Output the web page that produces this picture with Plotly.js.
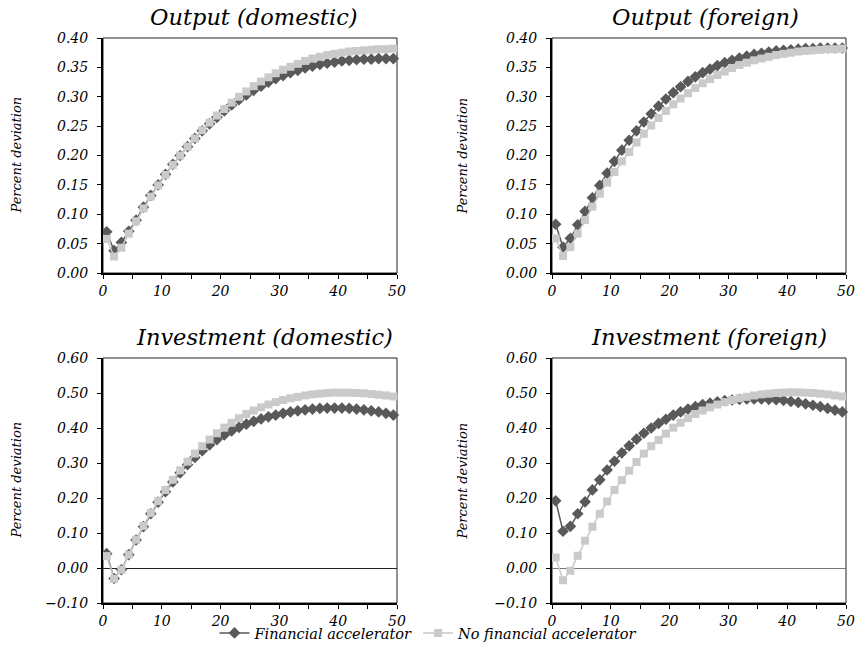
<!DOCTYPE html>
<html>
<head>
<meta charset="utf-8">
<script src="https://cdn.plot.ly/plotly-3.0.1.min.js"></script>
<style>html,body{margin:0;padding:0;background:#fff;}#chart{width:857px;height:649px;}</style>
</head>
<body>
<div id="chart"></div>
<script>
// ---- data ----
const periods = [1,2,3,4,5,6,7,8,9,10,11,12,13,14,15,16,17,18,19,20,21,22,23,24,25,26,27,28,29,30,31,32,33,34,35,36,37,38,39,40];
const xTickPos = [0.5, 8.5, 16.5, 24.5, 32.5, 40.5];
const xTickText = ['0','10','20','30','40','50'];
const seriesNames = ['Financial accelerator', 'No financial accelerator'];
const panelTitles = ['Output (domestic)', 'Output (foreign)', 'Investment (domestic)', 'Investment (foreign)'];

const outDomFA = [0.070,0.038,0.052,0.071,0.090,0.112,0.132,0.150,0.168,0.185,0.200,0.215,0.229,0.242,0.254,0.265,0.276,0.286,0.295,0.303,0.311,0.318,0.325,0.331,0.336,0.341,0.345,0.349,0.352,0.355,0.357,0.359,0.361,0.362,0.363,0.364,0.364,0.365,0.365,0.365];
const outDomNFA = [0.058,0.028,0.043,0.067,0.088,0.110,0.130,0.149,0.167,0.184,0.200,0.215,0.229,0.243,0.256,0.268,0.279,0.290,0.300,0.309,0.318,0.326,0.333,0.340,0.346,0.351,0.356,0.361,0.365,0.368,0.371,0.373,0.375,0.377,0.378,0.379,0.380,0.381,0.381,0.382];
const outForFA = [0.083,0.044,0.059,0.082,0.105,0.128,0.149,0.170,0.190,0.209,0.226,0.242,0.257,0.271,0.284,0.296,0.307,0.317,0.326,0.334,0.341,0.347,0.353,0.358,0.362,0.366,0.369,0.372,0.374,0.376,0.378,0.379,0.380,0.381,0.382,0.382,0.383,0.383,0.383,0.383];
const outForNFA = [0.059,0.029,0.044,0.067,0.090,0.113,0.135,0.154,0.172,0.190,0.206,0.222,0.237,0.251,0.264,0.276,0.287,0.297,0.306,0.315,0.323,0.330,0.337,0.343,0.349,0.354,0.358,0.362,0.365,0.368,0.371,0.373,0.375,0.377,0.378,0.379,0.380,0.381,0.381,0.382];
const invDomFA = [0.041,-0.030,-0.005,0.038,0.080,0.118,0.155,0.188,0.218,0.246,0.272,0.295,0.316,0.335,0.352,0.367,0.380,0.392,0.402,0.411,0.419,0.426,0.432,0.437,0.442,0.446,0.449,0.452,0.454,0.456,0.457,0.457,0.457,0.456,0.454,0.452,0.449,0.446,0.442,0.437];
const invDomNFA = [0.034,-0.031,-0.005,0.038,0.081,0.120,0.157,0.191,0.223,0.252,0.279,0.304,0.327,0.348,0.367,0.385,0.401,0.415,0.428,0.440,0.450,0.459,0.467,0.474,0.480,0.485,0.489,0.493,0.496,0.498,0.500,0.501,0.501,0.501,0.500,0.499,0.497,0.495,0.493,0.490];
const invForFA = [0.192,0.105,0.119,0.155,0.189,0.223,0.252,0.280,0.305,0.329,0.349,0.368,0.385,0.400,0.413,0.425,0.437,0.446,0.454,0.461,0.467,0.471,0.475,0.478,0.480,0.482,0.483,0.483,0.483,0.482,0.481,0.479,0.476,0.473,0.469,0.465,0.461,0.456,0.451,0.446];
const invForNFA = [0.030,-0.035,-0.008,0.035,0.078,0.118,0.155,0.190,0.223,0.251,0.278,0.303,0.327,0.348,0.366,0.384,0.401,0.415,0.428,0.440,0.450,0.459,0.467,0.474,0.480,0.485,0.489,0.493,0.496,0.498,0.500,0.501,0.502,0.502,0.501,0.500,0.498,0.496,0.493,0.490];

// ---- styles ----
const W = 857, H = 649;
const FONT = 'DejaVu Serif, Liberation Serif, serif';
const darkC = '#595959', lightC = '#cacaca';
const panels = [
  {fa: outDomFA, nfa: outDomNFA, xd: [103, 397], yd: [38, 273], yr: [0, 0.40], dt: 0.05, tx: 254, ty: 17},
  {fa: outForFA, nfa: outForNFA, xd: [552, 846], yd: [38, 273], yr: [0, 0.40], dt: 0.05, tx: 705, ty: 17},
  {fa: invDomFA, nfa: invDomNFA, xd: [103, 397], yd: [358, 603], yr: [-0.10, 0.60], dt: 0.10, tx: 264, ty: 337},
  {fa: invForFA, nfa: invForNFA, xd: [552, 846], yd: [358, 603], yr: [-0.10, 0.60], dt: 0.10, tx: 709, ty: 337}
];

const traces = [];
const layout = {
  width: W, height: H,
  margin: {l: 0, r: 0, t: 0, b: 0},
  paper_bgcolor: '#fff', plot_bgcolor: '#fff',
  font: {family: FONT, color: '#000', size: 14},
  showlegend: true,
  legend: {orientation: 'h', x: 0.5, xanchor: 'center', y: 0, yanchor: 'bottom',
           bgcolor: 'rgba(0,0,0,0)',
           font: {family: FONT, size: 14.5, style: 'italic'}, itemwidth: 30, tracegroupgap: 0, traceorder: 'normal'},
  annotations: [], shapes: []
};

panels.forEach((p, i) => {
  const n = i + 1;
  const xa = n === 1 ? 'x' : 'x' + n, ya = n === 1 ? 'y' : 'y' + n;
  const xk = n === 1 ? 'xaxis' : 'xaxis' + n, yk = n === 1 ? 'yaxis' : 'yaxis' + n;
  traces.push({x: periods, y: p.fa, xaxis: xa, yaxis: ya, type: 'scatter', mode: 'lines+markers',
    name: seriesNames[0], legendgroup: 'fa', showlegend: i === 0,
    line: {color: darkC, width: 1.5}, marker: {symbol: 'diamond', size: 9, color: darkC}, cliponaxis: false});
  traces.push({x: periods, y: p.nfa, xaxis: xa, yaxis: ya, type: 'scatter', mode: 'lines+markers',
    name: seriesNames[1], legendgroup: 'nfa', showlegend: i === 0,
    line: {color: lightC, width: 1.5}, marker: {symbol: 'square', size: 8, color: lightC}, cliponaxis: false});
  layout[xk] = {
    domain: [p.xd[0]/W, p.xd[1]/W], anchor: ya, range: [0.5, 40.5],
    tickmode: 'array', tickvals: xTickPos, ticktext: xTickText,
    ticks: 'outside', ticklen: 4, tickwidth: 1, tickcolor: '#000',
    minor: {tickmode: 'linear', tick0: 0.5, dtick: 4, ticks: 'outside', ticklen: 4, tickcolor: '#000', showgrid: false},
    showline: true, linewidth: 2, linecolor: '#000', showgrid: false, zeroline: false,
    tickfont: {family: FONT, size: 14, style: 'italic'}, fixedrange: true
  };
  layout[yk] = {
    domain: [1 - p.yd[1]/H, 1 - p.yd[0]/H], anchor: xa, range: p.yr,
    tickmode: 'linear', tick0: 0, dtick: p.dt, tickformat: '.2f',
    ticks: 'outside', ticklen: 4, tickwidth: 1, tickcolor: '#000', ticklabelstandoff: 6,
    showline: true, linewidth: 2, linecolor: '#000', showgrid: false,
    zeroline: p.yr[0] < 0, zerolinecolor: i === 3 ? '#777' : '#222', zerolinewidth: 1,
    tickfont: {family: FONT, size: 14, style: 'italic'}, fixedrange: true
  };
  layout.shapes.push({type: 'rect', xref: xa + ' domain', yref: ya + ' domain', x0: 0, x1: 1, y0: 0, y1: 1,
    line: {color: '#222', width: 1}, layer: 'below'});
  layout.annotations.push({text: panelTitles[i], xref: 'paper', yref: 'paper', x: p.tx/W, y: 1 - p.ty/H,
    xanchor: 'center', yanchor: 'middle', showarrow: false, font: {family: FONT, size: 22.5, style: 'italic'}});
  layout.annotations.push({text: 'Percent deviation', xref: 'paper', yref: 'paper',
    x: (i % 2 === 0 ? 16 : 462)/W, y: 1 - ((p.yd[0] + p.yd[1]) / 2)/H, textangle: -90,
    xanchor: 'center', yanchor: 'middle', showarrow: false, font: {family: FONT, size: 13, style: 'italic'}});
});

Plotly.newPlot('chart', traces, layout, {displayModeBar: false, staticPlot: true});
</script>
</body>
</html>
